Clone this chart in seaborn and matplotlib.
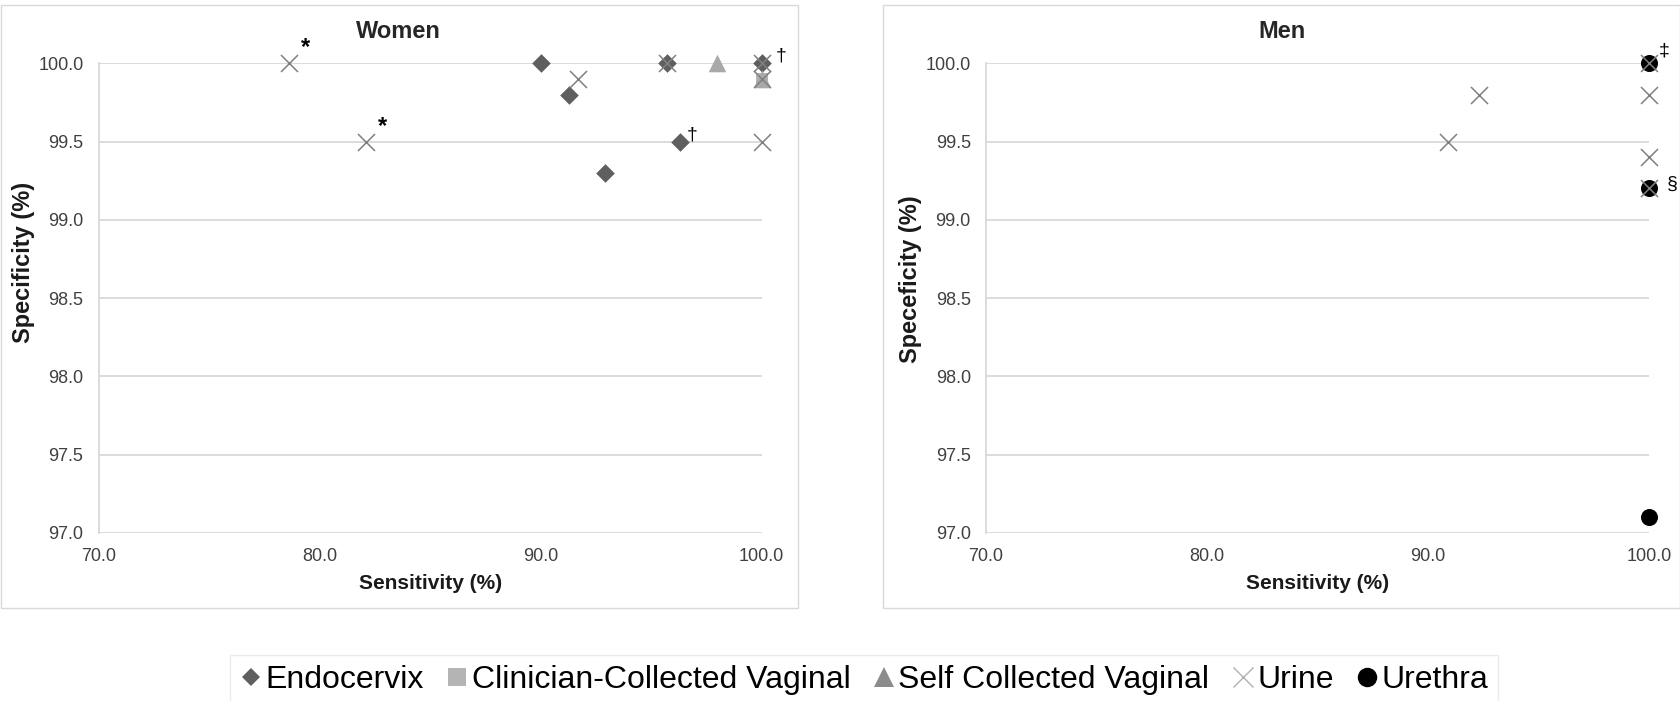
import matplotlib
matplotlib.use('Agg')
import matplotlib.pyplot as plt
import seaborn as sns
from matplotlib.lines import Line2D
from matplotlib.patches import Rectangle
from matplotlib.ticker import FormatStrFormatter

# ---- data (sensitivity %, specificity %) ----
endo_w_sens = [90.0, 91.3, 92.9, 95.7, 96.3, 100.0]
endo_w_spec = [100.0, 99.8, 99.3, 100.0, 99.5, 100.0]
clin_w_sens = [100.0]
clin_w_spec = [99.9]
self_w_sens = [98.0, 100.0]
self_w_spec = [100.0, 99.9]
urine_w_sens = [78.6, 82.1, 91.7, 95.7, 100.0, 100.0, 100.0]
urine_w_spec = [100.0, 99.5, 99.9, 100.0, 100.0, 99.9, 99.5]

urine_m_sens = [90.9, 92.3, 100.0, 100.0, 100.0, 100.0]
urine_m_spec = [99.5, 99.8, 100.0, 99.8, 99.4, 99.2]
urethra_m_sens = [100.0, 100.0, 100.0]
urethra_m_spec = [100.0, 99.2, 97.1]

# footnote marks: (symbol, sens, spec)
notes_w = [("*", 78.6, 100.0), ("*", 82.1, 99.5), ("\u2020", 100.0, 100.0), ("\u2020", 96.3, 99.5)]
notes_m = [("\u2021", 100.0, 100.0), ("\u00a7", 100.0, 99.2)]

x_ticks = [70, 80, 90, 100]
y_ticks = [97.0, 97.5, 98.0, 98.5, 99.0, 99.5, 100.0]

C_ENDO = "#5f5f5f"
C_CLIN = "#b4b4b4"
C_SELF = "#a9a9a9"
C_URINE = "#808080"
C_URETH = "#000000"
GRID = "#d9d9d9"

sns.set_theme(style="white")
plt.rcParams['font.family'] = ['Liberation Sans', 'DejaVu Sans']

fig = plt.figure(figsize=(16.81, 7.01), dpi=100)
ax_w = fig.add_axes([0.0587, 0.2397, 0.3944, 0.6701])
ax_m = fig.add_axes([0.5866, 0.2397, 0.3944, 0.6701])

# panel frames
fig.patches.append(Rectangle((0.0006, 1 - 608 / 701), 797 / 1681, 603 / 701,
                             transform=fig.transFigure, fill=False, edgecolor=GRID, lw=1))
fig.patches.append(Rectangle((883 / 1681, 1 - 608 / 701), 797 / 1681, 603 / 701,
                             transform=fig.transFigure, fill=False, edgecolor=GRID, lw=1))

kw = dict(clip_on=False, legend=False)
sns.scatterplot(x=endo_w_sens, y=endo_w_spec, marker="D", s=90, color=C_ENDO, ax=ax_w, zorder=3, linewidth=0, **kw)
sns.scatterplot(x=clin_w_sens, y=clin_w_spec, marker="s", s=70, color=C_CLIN, ax=ax_w, zorder=3, linewidth=0, **kw)
sns.scatterplot(x=self_w_sens, y=self_w_spec, marker="^", s=160, color=C_SELF, ax=ax_w, zorder=4, linewidth=0, **kw)
sns.scatterplot(x=urine_w_sens, y=urine_w_spec, marker="x", s=150, color=C_URINE, ax=ax_w, zorder=5, linewidth=1.1, **kw)

sns.scatterplot(x=urethra_m_sens, y=urethra_m_spec, marker="o", s=150, color=C_URETH, ax=ax_m, zorder=3, linewidth=0, **kw)
sns.scatterplot(x=urine_m_sens, y=urine_m_spec, marker="x", s=150, color=C_URINE, ax=ax_m, zorder=5, linewidth=1.1, **kw)

offsets = {"*": (12, 11), "\u2020": (14, 5), "\u2021": (11, 9), "\u00a7": (17, 3)}
for ax, notes in ((ax_w, notes_w), (ax_m, notes_m)):
    for sym, sx, sy in notes:
        dx, dy = offsets[sym]
        if sym == "\u2020" and sx < 100:
            dx, dy = 9, 5
        ax.annotate(sym, (sx, sy), xytext=(dx, dy), textcoords="offset points",
                    ha="center", va="center", fontsize=17 if sym == "*" else 14,
                    fontweight="bold" if sym == "*" else "normal", color="black",
                    annotation_clip=False)

for ax, ylab, title, tx, ly in ((ax_w, "Specificity (%)", "Women", 398 / 1681, 0.575),
                                (ax_m, "Speceficity (%)", "Men", 1282 / 1681, 0.54)):
    ax.set_xlim(70, 100)
    ax.set_ylim(97, 100)
    ax.set_xticks(x_ticks)
    ax.set_yticks(y_ticks)
    ax.xaxis.set_major_formatter(FormatStrFormatter("%.1f"))
    ax.yaxis.set_major_formatter(FormatStrFormatter("%.1f"))
    ax.grid(axis="y", color=GRID, lw=1.3)
    ax.grid(axis="x", visible=False)
    ax.set_axisbelow(True)
    for side in ("top", "right", "bottom"):
        ax.spines[side].set_visible(False)
    ax.spines["left"].set_color(GRID)
    ax.spines["left"].set_linewidth(1.3)
    ax.tick_params(axis="both", length=0, labelsize=13, colors="#404040")
    ax.tick_params(axis="y", pad=11)
    ax.tick_params(axis="x", pad=11)
    ax.set_xlabel("Sensitivity (%)", fontsize=15, fontweight="bold", color="#1a1a1a", labelpad=6)
    ax.set_ylabel(ylab, fontsize=17, fontweight="bold", color="#1a1a1a")
    ax.yaxis.set_label_coords(-0.096, ly)
    fig.text(tx, 1 - 31 / 701, title, ha="center", va="center", fontsize=17, fontweight="bold")

handles = [
    Line2D([], [], ls="none", marker="D", ms=9, color=C_ENDO, mew=0),
    Line2D([], [], ls="none", marker="s", ms=13, color=C_CLIN, mew=0),
    Line2D([], [], ls="none", marker="^", ms=14, color="#8c8c8c", mew=0),
    Line2D([], [], ls="none", marker="x", ms=15, color="#b0b0b0", mew=1),
    Line2D([], [], ls="none", marker="o", ms=14, color=C_URETH, mew=0),
]
labels = ["Endocervix", "Clinician-Collected Vaginal", "Self Collected Vaginal", "Urine", "Urethra"]
leg = fig.legend(handles, labels, loc="center", bbox_to_anchor=(0.514, 0.03), ncol=5,
                 fontsize=23, frameon=True, fancybox=False, edgecolor="#e6e6e6",
                 handlelength=0.7, handletextpad=0.1, columnspacing=0.7, borderpad=0.3,
                 labelcolor="#000000")
leg.get_frame().set_linewidth(1)

fig.savefig("out.png", dpi=100)
